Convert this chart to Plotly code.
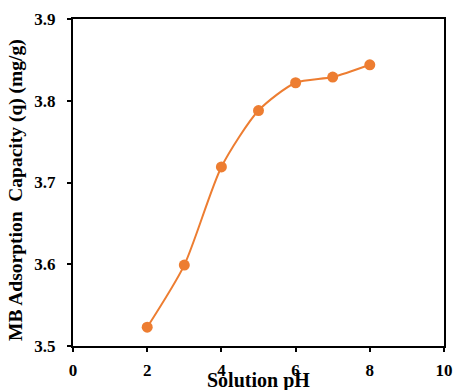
import plotly.graph_objects as go

ph = [2, 3, 4, 5, 6, 7, 8]
capacity = [3.523, 3.599, 3.719, 3.788, 3.822, 3.829, 3.844]
x_ticks = [0, 2, 4, 6, 8, 10]
y_ticks = [3.5, 3.6, 3.7, 3.8, 3.9]

orange = "#ED7D31"
font_family = "Liberation Serif"

fig = go.Figure()
fig.add_trace(go.Scatter(
    x=ph, y=capacity, mode="lines+markers",
    line=dict(color=orange, width=2, shape="spline", smoothing=0.7),
    marker=dict(color=orange, size=11),
    showlegend=False,
))

fig.update_layout(
    width=463, height=390,
    margin=dict(l=73, r=10, t=19, b=41),
    paper_bgcolor="white", plot_bgcolor="white",
    font=dict(family=font_family, color="black"),
    xaxis=dict(
        range=[0, 10], tickvals=x_ticks, ticktext=[f"<b>{v}</b>" for v in x_ticks],
        showgrid=False, zeroline=False,
        showline=True, linecolor="black", linewidth=2, mirror=True,
        ticks="outside", ticklen=4, tickwidth=1.5, tickcolor="black",
        ticklabelstandoff=4,
        tickfont=dict(family=font_family, size=17, color="black"),
    ),
    yaxis=dict(
        range=[3.5, 3.9], tickvals=y_ticks, ticktext=[f"<b>{v:.1f}</b>" for v in y_ticks],
        showgrid=False, zeroline=False,
        showline=True, linecolor="black", linewidth=2, mirror=True,
        ticks="outside", ticklen=4, tickwidth=1.5, tickcolor="black",
        ticklabelstandoff=8,
        tickfont=dict(family=font_family, size=17, color="black"),
    ),
    annotations=[
        dict(text="<b>Solution pH</b>", xref="paper", yref="paper", x=0.5, y=-0.106,
             xanchor="center", yanchor="middle", showarrow=False,
             font=dict(family=font_family, size=20, color="black")),
        dict(text="<b>MB Adsorption  Capacity (q) (mg/g)</b>", xref="paper", yref="paper",
             x=-0.152, y=0.476, xanchor="center", yanchor="middle", textangle=-90,
             showarrow=False, font=dict(family=font_family, size=19.5, color="black")),
    ],
)

fig.write_html("out.html")
